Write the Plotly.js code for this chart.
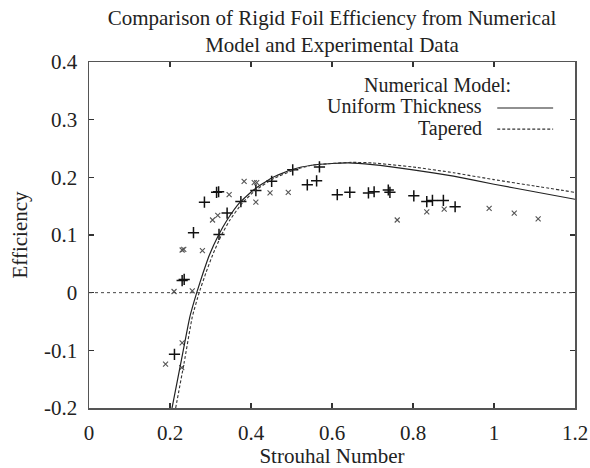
<!DOCTYPE html>
<html>
<head>
<meta charset="utf-8">
<script src="https://cdn.plot.ly/plotly-3.0.1.min.js"></script>
<style>html,body{margin:0;padding:0;background:#fff;}#chart{width:590px;height:468px;}</style>
</head>
<body>
<div id="chart"></div>
<script>
// Numerical model curves
const uniformX = [0.205, 0.227, 0.249, 0.266, 0.282, 0.297, 0.320, 0.341, 0.372, 0.406, 0.451, 0.503, 0.550, 0.600, 0.640, 0.700, 0.800, 0.900, 1.000, 1.100, 1.200];
const uniformY = [-0.200, -0.121, -0.042, 0.000, 0.035, 0.065, 0.100, 0.126, 0.156, 0.178, 0.199, 0.214, 0.221, 0.224, 0.225, 0.222, 0.213, 0.202, 0.188, 0.175, 0.162];
const taperedX = [0.214, 0.235, 0.255, 0.272, 0.289, 0.305, 0.327, 0.348, 0.379, 0.412, 0.456, 0.507, 0.550, 0.600, 0.650, 0.700, 0.800, 0.900, 1.000, 1.100, 1.200];
const taperedY = [-0.200, -0.121, -0.042, 0.000, 0.035, 0.065, 0.100, 0.126, 0.156, 0.178, 0.198, 0.213, 0.221, 0.224, 0.226, 0.225, 0.218, 0.208, 0.196, 0.185, 0.174];

// Experimental data ("+" markers)
const plusX = [0.211, 0.230, 0.235, 0.258, 0.285, 0.315, 0.320, 0.321, 0.341, 0.375, 0.412, 0.451, 0.503, 0.539, 0.562, 0.569, 0.613, 0.644, 0.690, 0.704, 0.739, 0.743, 0.802, 0.834, 0.848, 0.875, 0.904];
const plusY = [-0.107, 0.021, 0.023, 0.104, 0.157, 0.174, 0.175, 0.101, 0.138, 0.158, 0.177, 0.193, 0.213, 0.187, 0.194, 0.218, 0.170, 0.174, 0.173, 0.175, 0.178, 0.174, 0.168, 0.158, 0.160, 0.160, 0.149];

// Experimental data ("x" markers)
const crossX = [0.189, 0.230, 0.229, 0.210, 0.255, 0.230, 0.234, 0.280, 0.305, 0.318, 0.346, 0.383, 0.408, 0.414, 0.412, 0.447, 0.492, 0.761, 0.834, 0.877, 0.988, 1.050, 1.109];
const crossY = [-0.124, -0.087, -0.130, 0.002, 0.003, 0.074, 0.075, 0.073, 0.126, 0.134, 0.170, 0.193, 0.191, 0.191, 0.157, 0.173, 0.174, 0.126, 0.140, 0.145, 0.146, 0.138, 0.128];

const xTicks = [0, 0.2, 0.4, 0.6, 0.8, 1, 1.2];
const xTickText = ['0', '0.2', '0.4', '0.6', '0.8', '1', '1.2'];
const yTicks = [-0.2, -0.1, 0, 0.1, 0.2, 0.3, 0.4];
const yTickText = ['-0.2', '-0.1', '0', '0.1', '0.2', '0.3', '0.4'];

const serif = '"Liberation Serif", "DejaVu Serif", serif';
const FS = 21;

const traces = [
  {x: crossX, y: crossY, mode: 'markers', type: 'scatter', name: 'exp x',
   marker: {symbol: 'x-thin', size: 5, line: {width: 1.1, color: '#555'}, color: '#555'}},
  {x: plusX, y: plusY, mode: 'markers', type: 'scatter', name: 'exp +',
   marker: {symbol: 'cross-thin', size: 8, line: {width: 1.5, color: '#111'}, color: '#111'}},
  {x: uniformX, y: uniformY, mode: 'lines', type: 'scatter', name: 'Uniform Thickness',
   line: {color: '#222', width: 1.2, shape: 'spline', smoothing: 0.4}},
  {x: taperedX, y: taperedY, mode: 'lines', type: 'scatter', name: 'Tapered',
   line: {color: '#333', width: 1.1, dash: '3px,2px', shape: 'spline', smoothing: 0.4}}
];

const axisCommon = {
  showgrid: false, zeroline: false, showline: true, linecolor: '#555', linewidth: 1.5,
  mirror: 'ticks', ticks: 'inside', ticklen: 5, tickwidth: 1.5, tickcolor: '#333',
  tickfont: {family: serif, size: FS, color: '#222'}
};

const layout = {
  width: 590, height: 468,
  margin: {l: 89, r: 15, t: 62, b: 60},
  paper_bgcolor: '#fff', plot_bgcolor: '#fff',
  showlegend: false,
  font: {family: serif},
  title: {text: 'Comparison of Rigid Foil Efficiency from Numerical<br>Model and Experimental Data',
          font: {family: serif, size: FS, color: '#222'}, xref: 'paper', x: 0.5, xanchor: 'center',
          yref: 'container', y: 0.947, yanchor: 'middle'},
  xaxis: Object.assign({}, axisCommon, {range: [0, 1.2], tickvals: xTicks, ticktext: xTickText,
          ticklabelstandoff: 5,
          title: {text: 'Strouhal Number', font: {family: serif, size: FS, color: '#222'}, standoff: 6}}),
  yaxis: Object.assign({}, axisCommon, {range: [-0.2, 0.4], tickvals: yTicks, ticktext: yTickText,
          ticklabelstandoff: 6,
          title: {text: 'Efficiency', font: {family: serif, size: FS, color: '#222'}, standoff: 10}}),
  shapes: [
    {type: 'line', xref: 'paper', yref: 'y', x0: 0, x1: 1, y0: 0, y1: 0,
     line: {color: '#444', width: 1, dash: 'dot'}},
    {type: 'line', xref: 'paper', yref: 'paper', x0: 0.840, x1: 0.955, y0: 0.867, y1: 0.867,
     line: {color: '#222', width: 1.2}},
    {type: 'line', xref: 'paper', yref: 'paper', x0: 0.840, x1: 0.955, y0: 0.806, y1: 0.806,
     line: {color: '#333', width: 1.1, dash: '3px,2px'}}
  ],
  annotations: [
    {text: 'Numerical Model:', xref: 'paper', yref: 'paper', x: 0.718, y: 0.934, xanchor: 'center', yanchor: 'middle',
     showarrow: false, font: {family: serif, size: FS - 1, color: '#222'}},
    {text: 'Uniform Thickness', xref: 'paper', yref: 'paper', x: 0.813, y: 0.873, xanchor: 'right', yanchor: 'middle',
     showarrow: false, font: {family: serif, size: FS - 1, color: '#222'}},
    {text: 'Tapered', xref: 'paper', yref: 'paper', x: 0.813, y: 0.809, xanchor: 'right', yanchor: 'middle',
     showarrow: false, font: {family: serif, size: FS - 1, color: '#222'}}
  ]
};

Plotly.newPlot('chart', traces, layout, {displayModeBar: false, staticPlot: true});
</script>
</body>
</html>
